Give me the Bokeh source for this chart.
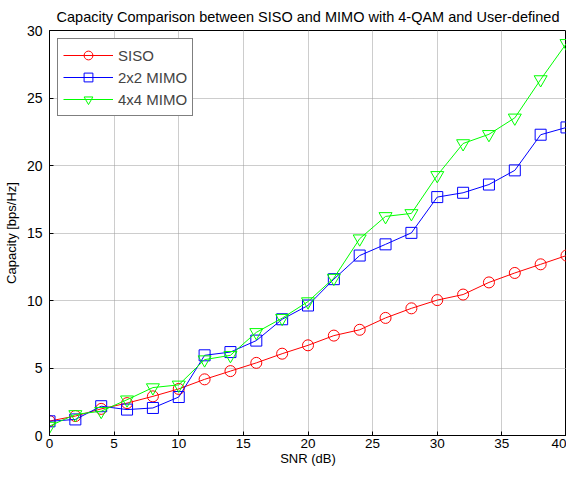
from bokeh.plotting import figure
from bokeh.models import Range1d, FixedTicker, Legend, LegendItem
from bokeh.embed import file_html
from bokeh.resources import INLINE

snr = [0, 2, 4, 6, 8, 10, 12, 14, 16, 18, 20, 22, 24, 26, 28, 30, 32, 34, 36, 38, 40]
siso = [1.07, 1.44, 1.97, 2.4, 2.9, 3.45, 4.16, 4.77, 5.38, 6.06, 6.68, 7.4, 7.83, 8.71,
        9.42, 10.03, 10.44, 11.34, 12.04, 12.68, 13.33]
mimo2 = [1.05, 1.19, 2.17, 1.92, 2.04, 2.85, 5.94, 6.18, 7.03, 8.61, 9.63, 11.58, 13.33,
         14.16, 15.01, 17.66, 17.98, 18.59, 19.64, 22.28, 22.82]
mimo4 = [0.7, 1.56, 1.8, 2.65, 3.55, 3.75, 5.62, 5.94, 7.64, 8.69, 9.92, 11.66, 14.58,
         16.23, 16.45, 19.27, 21.63, 22.31, 23.53, 26.37, 29.05]

x_ticks = [0, 5, 10, 15, 20, 25, 30, 35, 40]
y_ticks = [0, 5, 10, 15, 20, 25, 30]

FONT = "Liberation Sans"

p = figure(width=566, height=471, output_backend="svg", toolbar_location=None,
           x_range=Range1d(0, 40), y_range=Range1d(0, 30),
           min_border_left=45, min_border_right=0, min_border_top=30, min_border_bottom=36)

p.title.text = "Capacity Comparison between SISO and MIMO with 4-QAM and User-defined"
p.title.align = "center"
p.title.text_font = FONT
p.title.text_font_size = "14.5px"
p.title.text_font_style = "normal"
p.title.text_color = "black"
p.title.standoff = 11

p.outline_line_color = "black"
p.outline_line_width = 1
p.outline_line_alpha = 1
p.background_fill_color = "white"
p.border_fill_color = "white"

for ax in (p.xaxis[0], p.yaxis[0]):
    ax.major_tick_in = 4
    ax.major_tick_out = 0
    ax.minor_tick_line_color = None
    ax.axis_line_color = "black"
    ax.major_label_text_font = FONT
    ax.major_label_text_color = "black"
    ax.axis_label_text_font = FONT
    ax.axis_label_text_font_style = "normal"
    ax.axis_label_text_color = "black"

p.xaxis.ticker = FixedTicker(ticks=x_ticks)
p.yaxis.ticker = FixedTicker(ticks=y_ticks)
p.xaxis.axis_label = "SNR (dB)"
p.yaxis.axis_label = "Capacity [bps/Hz]"
p.xaxis.major_label_text_font_size = "13.5px"
p.yaxis.major_label_text_font_size = "14px"
p.xaxis.axis_label_text_font_size = "13px"
p.yaxis.axis_label_text_font_size = "13px"
p.xaxis.major_label_standoff = 3
p.yaxis.major_label_standoff = 7
p.xaxis.axis_label_standoff = 0
p.yaxis.axis_label_standoff = 5

p.grid.grid_line_color = "#9a9a9a"
p.grid.grid_line_dash = "1 1"
p.grid.grid_line_width = 1
p.xgrid.ticker = FixedTicker(ticks=x_ticks)
p.ygrid.ticker = FixedTicker(ticks=y_ticks)

series = [("SISO", siso, "#ff0000", "circle", 11),
          ("2x2 MIMO", mimo2, "#0000ff", "square", 11),
          ("4x4 MIMO", mimo4, "#00ff00", "inverted_triangle", 13)]
items = []
for name, ys, col, mk, sz in series:
    l = p.line(snr, ys, line_color=col, line_width=1)
    s = p.scatter(snr, ys, marker=mk, size=sz, line_color=col, fill_color=None, line_width=1)
    items.append(LegendItem(label=name, renderers=[l, s]))

legend = Legend(items=items, location="top_left", margin=8, padding=5, spacing=0,
                glyph_width=50, glyph_height=22, label_standoff=5,
                label_text_font=FONT, label_text_font_size="15px",
                border_line_color="black", border_line_width=1,
                background_fill_alpha=1, background_fill_color="white")
p.add_layout(legend)

open("out.html", "w").write(file_html(p, INLINE))
